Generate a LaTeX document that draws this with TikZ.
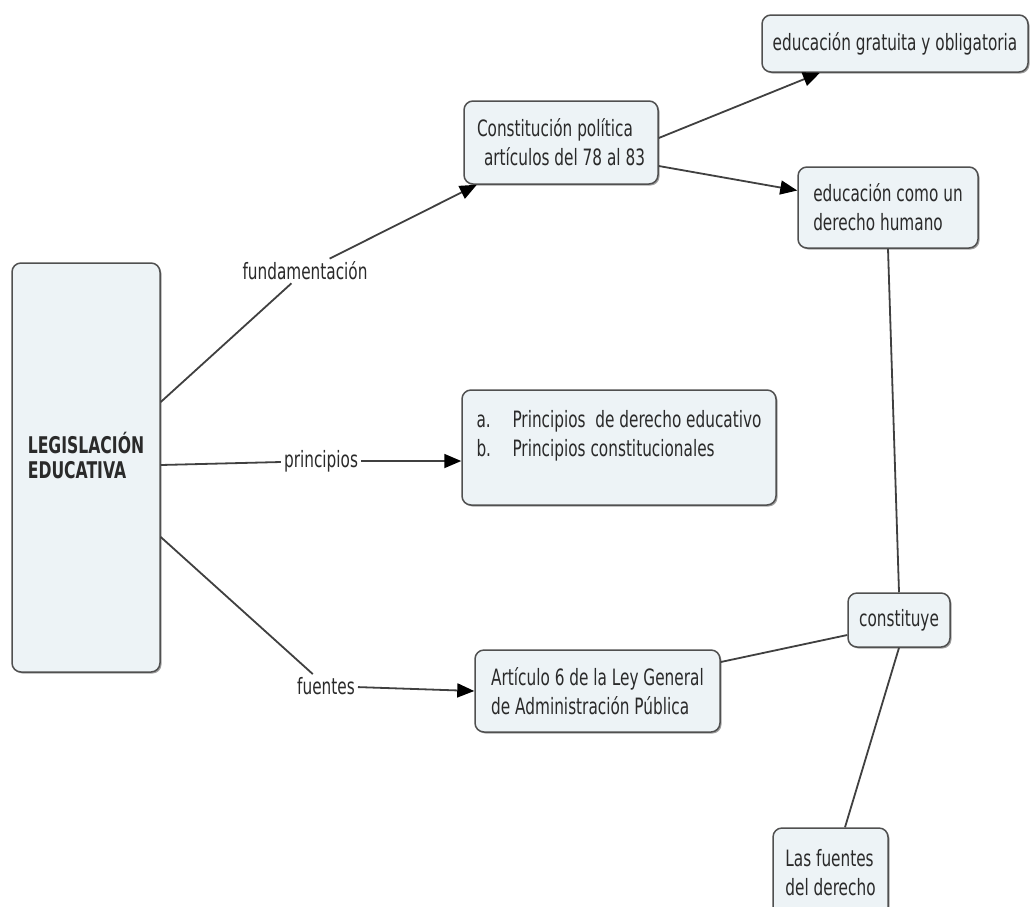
\documentclass[tikz,border=0pt]{standalone}
\usepackage{fontspec}
\setmainfont{DejaVu Sans}[FakeStretch=0.68]
\usetikzlibrary{arrows.meta,shadows}
\definecolor{boxfill}{HTML}{EDF3F6}
\definecolor{boxline}{HTML}{505050}
\definecolor{txt}{HTML}{2A2A2A}
\definecolor{ln}{HTML}{404040}
\tikzset{
  concept/.style={draw=boxline, line width=1.5pt, fill=boxfill, rounded corners=9pt,
    align=left, text=txt, font=\fontsize{22.5}{29}\selectfont, inner sep=0pt,
    drop shadow={shadow xshift=1.5pt, shadow yshift=-1.5pt, fill=black!60, opacity=0.6}},
  linklab/.style={text=txt, font=\fontsize{22.5}{29}\selectfont, inner sep=3pt},
  conn/.style={draw=ln, line width=1.8pt},
  arr/.style={conn, -{Triangle[length=17pt,width=14pt,color=black]}}
}
\begin{document}
\begin{tikzpicture}[x=1pt,y=-1pt]
\useasboundingbox[fill=white] (0,0) rectangle (1030,906);
\node[concept, minimum width=148pt, minimum height=409pt, font=\bfseries\fontsize{23}{25}\selectfont] (leg) at (86,467.5) {LEGISLACIÓN\\EDUCATIVA\\[-1pt]\mbox{}};
\node[concept, minimum width=194pt, minimum height=83pt] (con) at (561,142.5) {Constitución política\\\hspace*{7pt}artículos del 78 al 83};
\node[concept, minimum width=266pt, minimum height=57pt] (gra) at (895,43.5) {educación gratuita y obligatoria};
\node[concept, minimum width=180pt, minimum height=81pt] (hum) at (888,207.5) {educación como un\\derecho humano};
\node[concept, minimum width=314pt, minimum height=115pt] (pri) at (619,447.5) {\makebox[36pt][l]{a.}Principios\ \ de derecho educativo\\\makebox[36pt][l]{b.}Principios constitucionales\\\mbox{}};
\node[concept, minimum width=245pt, minimum height=82pt] (art) at (597.5,691) {Artículo 6 de la Ley General\\de Administración Pública};
\node[concept, minimum width=102pt, minimum height=54pt] (cons) at (899,620) {constituye};
\node[concept, minimum width=115pt, minimum height=90pt] (fue) at (830.5,873) {Las fuentes\\del derecho};

\node[linklab] (lab1) at (305,271) {fundamentación};
\node[linklab] (lab2) at (321,461) {principios};
\node[linklab] (lab3) at (326,686) {fuentes};

\draw[conn] ([yshift=65.5pt]leg.east) -- (lab1);
\draw[arr] (lab1) -- (con);
\draw[conn] ([yshift=2.5pt]leg.east) -- (lab2);
\draw[arr] (lab2) -- (pri.west |- lab2);
\draw[conn] ([yshift=-69.5pt]leg.east) -- (lab3);
\draw[arr] (lab3) -- (art.west);
\draw[arr] ([yshift=4.5pt]con.east) -- ([xshift=-75pt]gra.south);
\draw[arr] ([yshift=-23.5pt]con.east) -- ([yshift=17pt]hum.west);
\draw[conn] (hum.south) -- (cons.north);
\draw[conn] ([yshift=29pt]art.east) -- ([yshift=-15pt]cons.west);
\draw[conn] (cons.south) -- ([xshift=14.5pt]fue.north);
\end{tikzpicture}
\end{document}
